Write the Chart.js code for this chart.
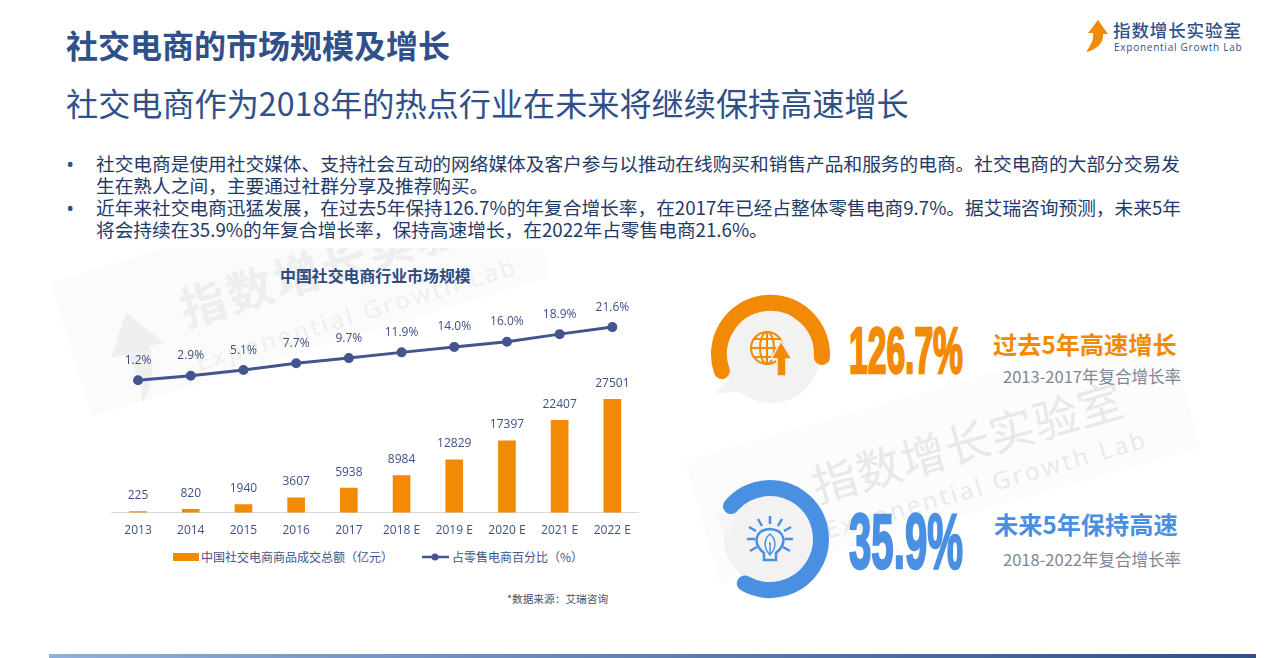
<!DOCTYPE html>
<html lang="zh">
<head>
<meta charset="UTF-8">
<title>社交电商的市场规模及增长</title>
<script src="https://cdn.jsdelivr.net/npm/chart.js"></script>
<style>
  html, body { margin: 0; padding: 0; background: #fff; }
  body { width: 1280px; height: 658px; position: relative; overflow: hidden; font-family: "Open Sans", "Noto Sans CJK SC", sans-serif; }
  .abs { position: absolute; white-space: nowrap; }
  #title { left: 66px; top: 21px; font: 700 32px/46px "Noto Sans CJK SC"; color: #2f5088; }
  #subtitle { left: 66px; top: 78px; font: 400 32.15px/48px "Noto Sans CJK SC"; color: #2f5088; }
  .bullet { left: 66px; font-size: 22px; color: #2f5088; line-height: 22px; }
  .line { left: 96px; font: 400 18.7px/22px "Noto Sans CJK SC"; color: #1f3a68; }
  #chartTitle { left: 280px; top: 265px; font: 700 15.9px/22px "Noto Sans CJK SC"; color: #2f4a80; }
  #source { left: 507px; top: 591px; font: 400 10.7px/16px "Noto Sans CJK SC"; color: #44546a; }
  .legend { top: 548px; font: 400 12px/18px "Noto Sans CJK SC"; color: #44548a; }
  #chartWrap { position: absolute; left: 80px; top: 290px; width: 590px; height: 251px; }
  #footerBar { left: 49px; top: 654px; width: 1207px; height: 4px; background: linear-gradient(90deg, #8fb0dd, #2f5088); }
  svg.layer { position: absolute; left: 0; top: 0; }
</style>
</head>
<body>
<!-- 水印和右侧装饰 -->
<svg class="layer" width="1280" height="658">
  <g transform="rotate(-17 170 330)">
    <rect x="70" y="250" width="480" height="140" fill="#fbfbfb"/>
    <path d="M105 340 L133 300 L161 340 L145 340 Q146 370 122 392 Q130 365 120 340 Z" fill="#efefef"/>
    <text x="186" y="332" font-family="Noto Sans CJK SC" font-weight="700" font-size="46" fill="#eeeeee" letter-spacing="3">指数增长实验室</text>
    <text x="186" y="378" font-family="Open Sans" font-size="24" fill="#eeeeee" letter-spacing="3">Exponential Growth Lab</text>
  </g>
  <g transform="rotate(-16 800 500)">
    <rect x="700" y="430" width="500" height="130" fill="#fcfcfc"/>
    <text x="816" y="508" font-family="Noto Sans CJK SC" font-size="45" fill="#e8e8e8" letter-spacing="1">指数增长实验室</text>
    <text x="816" y="545" font-family="Open Sans" font-size="24" fill="#e8e8e8" letter-spacing="3">Exponential Growth Lab</text>
  </g>
  <!-- 正文区是白底，盖住水印上半截 -->
  <rect x="0" y="0" width="1280" height="248" fill="#fff"/>

  <!-- 橙色圆环 -->
  <circle cx="771" cy="354" r="49" fill="#f2f2f2"/>
  <path d="M715 393 L735 373 L745 392 Z" fill="#f2f2f2"/>
  <path d="M721.8 371.1 A51.5 51.5 0 1 1 821.9 357" fill="none" stroke="#f28a05" stroke-width="16" stroke-linecap="round"/>
  <g fill="none" stroke="#f28a05" stroke-width="2">
    <circle cx="767" cy="348" r="16"/>
    <ellipse cx="767" cy="348" rx="7" ry="16"/>
    <path d="M751 348 H783 M754 339 H780 M754 357 H780 M767 332 V364"/>
  </g>
  <path d="M781 341 L792 359 L786 359 L786 376 L777 376 L777 359 L771 359 Z" fill="#f28a05" stroke="#f2f2f2" stroke-width="1.5"/>
  <text x="849" y="373" textLength="114" lengthAdjust="spacingAndGlyphs" font-family="Liberation Sans" font-weight="700" font-size="64" fill="#f28a05" stroke="#f28a05" stroke-width="2.5">126.7%</text>
  <text x="993" y="354" font-family="Noto Sans CJK SC" font-weight="700" font-size="24.2" fill="#f28a05">过去5年高速增长</text>
  <text x="1003" y="383" font-family="Noto Sans CJK SC" font-size="16.5" fill="#7f8794">2013-2017年复合增长率</text>

  <!-- 蓝色圆环 -->
  <circle cx="770" cy="539" r="46" fill="#f2f2f2"/>
  <path d="M713 512 L735 515 L728 540 Z" fill="#f6f6f6"/>
  <path d="M731 506.1 A51 51 0 1 1 744.8 583.4" fill="none" stroke="#4a90e2" stroke-width="16" stroke-linecap="round"/>
  <g fill="none" stroke="#4a90e2" stroke-width="2.5">
    <path d="M764 560 H776 V553 C788 543 785 530 770 529 C755 530 752 543 764 553 Z"/>
    <path d="M770 555 C762 546 765 538 770 534 C775 538 778 546 770 555 Z M770 555 V542" stroke-width="1.5"/>
    <path d="M770 516 V524 M758 519 L762 526 M782 519 L778 526 M749 527 L756 531 M791 527 L784 531 M747 539 H755 M793 539 H785 M750 551 L757 547 M790 551 L783 547"/>
  </g>
  <text x="849" y="568" textLength="114" lengthAdjust="spacingAndGlyphs" font-family="Liberation Sans" font-weight="700" font-size="77" fill="#4a90e2" stroke="#4a90e2" stroke-width="2.5">35.9%</text>
  <text x="994" y="534" font-family="Noto Sans CJK SC" font-weight="700" font-size="24.2" fill="#4a90e2">未来5年保持高速</text>
  <text x="1003" y="566" font-family="Noto Sans CJK SC" font-size="16.5" fill="#7f8794">2018-2022年复合增长率</text>

  <!-- 图例 -->
  <rect x="173" y="553" width="26" height="8" fill="#f28a05"/>
  <path d="M422 557 H449" stroke="#44548f" stroke-width="2.5"/>
  <circle cx="435" cy="557" r="3.5" fill="#44548f"/>

  <!-- logo -->
  <path d="M1086 52 C1092 44 1094 38 1093 33 L1088 33 L1098 20 L1108 34 L1103 34 C1104 42 1097 50 1086 52 Z" fill="#f28a05"/>
</svg>

<div class="abs" id="title">社交电商的市场规模及增长</div>
<div class="abs" id="subtitle">社交电商作为2018年的热点行业在未来将继续保持高速增长</div>

<div class="abs bullet" style="top:152px">•</div>
<div class="abs line" style="top:152px">社交电商是使用社交媒体、支持社会互动的网络媒体及客户参与以推动在线购买和销售产品和服务的电商。社交电商的大部分交易发</div>
<div class="abs line" style="top:174px">生在熟人之间，主要通过社群分享及推荐购买。</div>
<div class="abs bullet" style="top:196px">•</div>
<div class="abs line" style="top:196px">近年来社交电商迅猛发展，在过去5年保持126.7%的年复合增长率，在2017年已经占整体零售电商9.7%。据艾瑞咨询预测，未来5年</div>
<div class="abs line" style="top:218px">将会持续在35.9%的年复合增长率，保持高速增长，在2022年占零售电商21.6%。</div>

<div class="abs" style="left:1113px;top:18px;font:500 17.5px/24px 'Noto Sans CJK SC';color:#2f5088;letter-spacing:.9px">指数增长实验室</div>
<div class="abs" style="left:1114px;top:41px;font:400 10px/13px 'Open Sans';color:#2f5088;letter-spacing:.75px">Exponential Growth Lab</div>

<div class="abs" id="chartTitle">中国社交电商行业市场规模</div>
<div id="chartWrap"><canvas id="marketChart" width="590" height="251"></canvas></div>
<div class="abs legend" style="left:201px">中国社交电商商品成交总额（亿元）</div>
<div class="abs legend" style="left:452px">占零售电商百分比（%）</div>
<div class="abs" id="source">*数据来源：艾瑞咨询</div>
<div class="abs" id="footerBar"></div>

<script>
const categories = ['2013', '2014', '2015', '2016', '2017', '2018 E', '2019 E', '2020 E', '2021 E', '2022 E'];
const gmvValues = [225, 820, 1940, 3607, 5938, 8984, 12829, 17397, 22407, 27501];
const shareValues = [1.2, 2.9, 5.1, 7.7, 9.7, 11.9, 14.0, 16.0, 18.9, 21.6];

// 数值标签，Chart.js 本身没有 datalabels
const valueLabels = {
  id: 'valueLabels',
  afterDatasetsDraw(chart) {
    const ctx = chart.ctx;
    ctx.save();
    ctx.font = '12px "Open Sans", "Noto Sans CJK SC"';
    ctx.fillStyle = '#3f5088';
    ctx.textAlign = 'center';
    ctx.textBaseline = 'middle';
    chart.getDatasetMeta(0).data.forEach((pt, i) => {
      ctx.fillText(shareValues[i].toFixed(1) + '%', pt.x, pt.y - 20);
    });
    chart.getDatasetMeta(1).data.forEach((bar, i) => {
      ctx.fillText(String(gmvValues[i]), bar.x, bar.y - 16);
    });
    ctx.restore();
  }
};

new Chart(document.getElementById('marketChart'), {
  type: 'bar',
  data: {
    labels: categories,
    datasets: [
      {
        type: 'line',
        label: '占零售电商百分比（%）',
        data: shareValues,
        yAxisID: 'yShare',
        borderColor: '#44548f',
        backgroundColor: '#44548f',
        borderWidth: 3,
        pointRadius: 3.5,
        tension: 0,
        order: 0
      },
      {
        type: 'bar',
        label: '中国社交电商商品成交总额（亿元）',
        data: gmvValues,
        yAxisID: 'yGmv',
        backgroundColor: '#f28a05',
        barThickness: 17,
        order: 1
      }
    ]
  },
  options: {
    responsive: false,
    animation: false,
    layout: { padding: { left: 31.7, right: 31.3, top: 10, bottom: 0 } },
    plugins: { legend: { display: false }, tooltip: { enabled: false } },
    scales: {
      x: {
        grid: { display: false },
        border: { color: '#d9d9d9', width: 1 },
        ticks: { color: '#3f5088', padding: 3, maxRotation: 0, autoSkip: false, font: { family: '"Open Sans", "Noto Sans CJK SC"', size: 12 } }
      },
      yGmv: { display: false, min: 0, max: 51600 },
      yShare: { display: false, min: -49.6, max: 32 }
    }
  },
  plugins: [valueLabels]
});
</script>
</body>
</html>
